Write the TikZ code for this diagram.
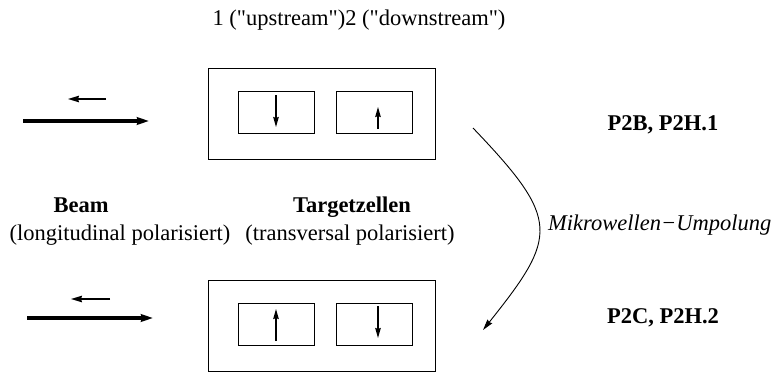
\documentclass[tikz,border=0pt]{standalone}
\usepackage{fontspec}
\setmainfont{Liberation Serif}
\usetikzlibrary{arrows.meta}
\begin{document}
\begin{tikzpicture}[x=1pt,y=-1pt,
  box/.style={draw,line width=0.9pt,inner sep=0pt,anchor=north west},
  outerbox/.style={box,minimum width=227pt,minimum height=91pt},
  innerbox/.style={box,minimum width=76pt,minimum height=42pt},
  txt/.style={inner sep=0pt,anchor=base,font=\fontsize{22.5}{27}\selectfont},
  btxt/.style={txt,font=\fontsize{22.5}{27}\selectfont\bfseries},
  spin/.style={line width=1.2pt,-{Stealth[length=10pt,width=5.5pt,inset=1pt]}},
  small/.style={line width=1.4pt,-{Stealth[length=11pt,width=6.5pt,inset=1pt]}},
  beam/.style={line width=3.2pt,-{Stealth[length=12pt,width=7.5pt,inset=1pt]}},
  flip/.style={line width=0.9pt,-{Stealth[length=11pt,width=6pt,inset=1pt]}}]
\useasboundingbox (0,0) rectangle (780,372);

% title
\node[txt] (title) at (359,25) {1 (\textquotedbl upstream\textquotedbl)2 (\textquotedbl downstream\textquotedbl)};

% top state
\node[outerbox] (oA) at (208,68) {};
\node[innerbox] (iA1) at (238,91) {};
\node[innerbox] (iA2) at (336,91) {};
\coordinate (a1s) at (276,95);  \coordinate (a1e) at (276,127);
\coordinate (a2s) at (378,129); \coordinate (a2e) at (378,107);
\draw[spin] (a1s) -- (a1e);
\draw[spin] (a2s) -- (a2e);
\coordinate (sAs) at (106,99);  \coordinate (sAe) at (68,99);
\coordinate (bAs) at (23,121);  \coordinate (bAe) at (149,121);
\draw[small] (sAs) -- (sAe);
\draw[beam] (bAs) -- (bAe);

% bottom state
\node[outerbox] (oB) at (208,280) {};
\node[innerbox] (iB1) at (238,303) {};
\node[innerbox] (iB2) at (336,303) {};
\coordinate (b1s) at (276,341); \coordinate (b1e) at (276,309);
\coordinate (b2s) at (378,306); \coordinate (b2e) at (378,338);
\draw[spin] (b1s) -- (b1e);
\draw[spin] (b2s) -- (b2e);
\coordinate (sBs) at (110,299); \coordinate (sBe) at (71,299);
\coordinate (bBs) at (27,318);  \coordinate (bBe) at (153,318);
\draw[small] (sBs) -- (sBe);
\draw[beam] (bBs) -- (bBe);

% labels
\node[btxt] (beamlbl) at (81,212) {Beam};
\node[txt] (beampol) at (120,240) {(longitudinal polarisiert)};
\node[btxt] (tgtlbl) at (352,212) {Targetzellen};
\node[txt] (tgtpol) at (350,240) {(transversal polarisiert)};
\node[btxt] (pA) at (663,130) {P2B, P2H.1};
\node[btxt] (pB) at (663,323) {P2C, P2H.2};

% flip arrow
\coordinate (fs) at (473,128);
\coordinate (fe) at (483,330);
\draw[flip] (fs) .. controls (561,220) and (558,236) .. (fe);
\node[txt,anchor=base west,font=\fontsize{22.5}{27}\selectfont\itshape] (mw) at (548,230) {Mikrowellen−Umpolung};
\end{tikzpicture}
\end{document}
